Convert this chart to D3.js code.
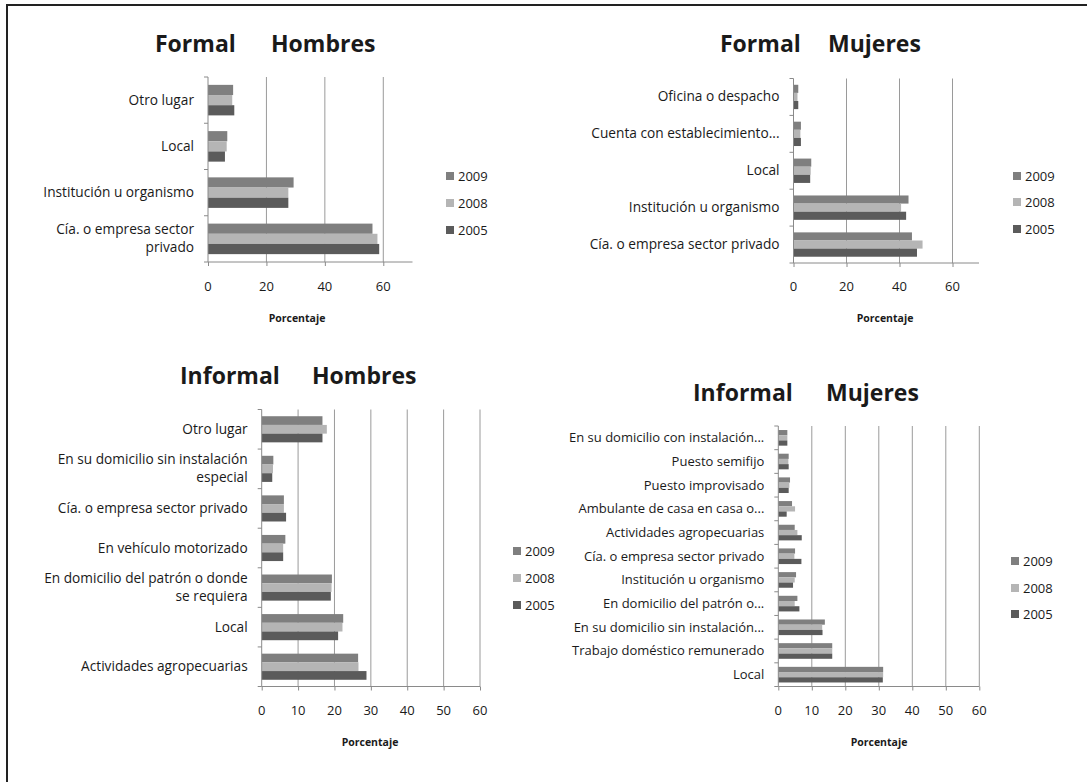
<!DOCTYPE html>
<html><head><meta charset="utf-8">
<script src="https://cdn.jsdelivr.net/npm/d3@7"></script>
<style>
body{margin:0;background:#fff;}
svg{display:block;}
text{font-family:"Open Sans",Lato,sans-serif;fill:#1a1a1a;}
</style></head>
<body>
<svg id="c" width="1087" height="782"></svg>
<script>
const years = ["2009","2008","2005"];
const yearColors = ["#7f7f7f","#b5b5b5","#5b5b5b"];

// Formal Hombres
const fhCategories = ["Otro lugar","Local","Institución u organismo","Cía. o empresa sector\nprivado"];
const fh2009 = [8.6, 6.6, 29.3, 56.3];
const fh2008 = [8.3, 6.4, 27.5, 58.0];
const fh2005 = [9.0, 5.8, 27.5, 58.6];
const fhTicks = [0,20,40,60];

// Formal Mujeres
const fmCategories = ["Oficina o despacho","Cuenta con establecimiento...","Local","Institución u organismo","Cía. o empresa sector privado"];
const fm2009 = [1.8, 2.8, 6.7, 43.4, 44.7];
const fm2008 = [1.5, 2.6, 6.5, 40.6, 48.7];
const fm2005 = [1.8, 2.8, 6.3, 42.5, 46.6];
const fmTicks = [0,20,40,60];

// Informal Hombres
const ihCategories = ["Otro lugar","En su domicilio sin instalación\nespecial","Cía. o empresa sector privado","En vehículo motorizado","En domicilio del patrón o donde\nse requiera","Local","Actividades agropecuarias"];
const ih2009 = [16.7, 3.2, 6.1, 6.5, 19.3, 22.4, 26.5];
const ih2008 = [17.9, 3.1, 6.1, 5.9, 19.2, 22.2, 26.6];
const ih2005 = [16.7, 2.9, 6.7, 5.9, 19.0, 21.0, 28.8];
const ihTicks = [0,10,20,30,40,50,60];

// Informal Mujeres
const imCategories = ["En su domicilio con instalación...","Puesto semifijo","Puesto improvisado","Ambulante de casa en casa o...","Actividades agropecuarias","Cía. o empresa sector privado","Institución u organismo","En domicilio del patrón o...","En su domicilio sin instalación...","Trabajo doméstico remunerado","Local"];
const im2009 = [2.7, 3.1, 3.5, 4.1, 4.9, 5.0, 5.3, 5.7, 13.9, 16.1, 31.3];
const im2008 = [2.7, 3.0, 3.3, 5.0, 5.7, 4.8, 4.9, 4.9, 13.1, 16.1, 31.3];
const im2005 = [2.7, 3.1, 3.1, 2.5, 7.0, 6.9, 4.4, 6.3, 13.2, 16.1, 31.2];
const imTicks = [0,10,20,30,40,50,60];

const axisTitle = "Porcentaje";

const svg = d3.select("#c");

// frame
svg.append("line").attr("x1",7).attr("x2",1087).attr("y1",5).attr("y2",5).attr("stroke","#222").attr("stroke-width",2);
svg.append("line").attr("x1",7).attr("x2",7).attr("y1",4).attr("y2",782).attr("stroke","#222").attr("stroke-width",2);

const panels = [
  {title:["Formal","Hombres"], tx:[155,271], ty:52, cats:fhCategories, vals:[fh2009,fh2008,fh2005], ticks:fhTicks, max:70, lfs:13.7,
   x0:208, x1:412.5, y0:77, y1:262, tickY:291, titleX:297, titleY:322, legX:446, legY:[181,208,235]},
  {title:["Formal","Mujeres"], tx:[720,828], ty:52, cats:fmCategories, vals:[fm2009,fm2008,fm2005], ticks:fmTicks, max:70, lfs:13.7,
   x0:793.5, x1:979, y0:78.5, y1:263, tickY:291, titleX:885, titleY:322, legX:1013, legY:[181,207,234]},
  {title:["Informal","Hombres"], tx:[180,312], ty:384, cats:ihCategories, vals:[ih2009,ih2008,ih2005], ticks:ihTicks, max:60, lfs:13.7,
   x0:261.7, x1:480, y0:409.5, y1:686.5, tickY:715, titleX:370, titleY:746, legX:513, legY:[556,583,610]},
  {title:["Informal","Mujeres"], tx:[693,826], ty:401, cats:imCategories, vals:[im2009,im2008,im2005], ticks:imTicks, max:60, lfs:13,
   x0:778.3, x1:979.3, y0:426, y1:686.5, tickY:715, titleX:879, titleY:746, legX:1011, legY:[566,593,619]}
];

panels.forEach(p => {
  const g = svg.append("g");
  const x = d3.scaleLinear().domain([0,p.max]).range([p.x0,p.x1]);
  const y = d3.scaleBand().domain(p.cats).range([p.y0,p.y1]).paddingInner(0.34).paddingOuter(0.17);
  const ys = d3.scaleBand().domain(years).range([0,y.bandwidth()]);

  // gridlines
  g.selectAll(".grid").data(p.ticks.filter(t=>t>0)).join("line")
    .attr("x1",d=>x(d)).attr("x2",d=>x(d)).attr("y1",p.y0).attr("y2",p.y1)
    .attr("stroke","#9a9a9a").attr("stroke-width",1);

  // bars
  years.forEach((yr,i)=>{
    g.selectAll(".b"+yr).data(p.cats.map((c,j)=>({c,v:p.vals[i][j]}))).join("rect")
      .attr("x",x(0)).attr("y",d=>y(d.c)+ys(yr))
      .attr("width",d=>x(d.v)-x(0)).attr("height",ys.bandwidth())
      .attr("fill",yearColors[i]);
  });

  // x axis
  const xa = g.append("g").attr("transform",`translate(0,${p.y1})`)
    .call(d3.axisBottom(x).tickValues(p.ticks).tickSize(4).tickFormat(d3.format("d")));
  xa.select(".domain").attr("stroke","#8a8a8a").attr("d",`M${p.x0},0H${p.x1}`);
  xa.selectAll(".tick line").attr("stroke","#8a8a8a");
  xa.selectAll("text").remove();
  g.selectAll(".tl").data(p.ticks).join("text")
    .attr("x",d=>x(d)).attr("y",p.tickY).attr("text-anchor","middle")
    .attr("font-size",13).text(d=>d);

  // y axis line and ticks
  g.append("line").attr("x1",p.x0).attr("x2",p.x0).attr("y1",p.y0).attr("y2",p.y1).attr("stroke","#8a8a8a");
  g.selectAll(".yt").data(d3.range(p.cats.length+1)).join("line")
    .attr("x1",p.x0-4).attr("x2",p.x0).attr("y1",i=>p.y0+i*(p.y1-p.y0)/p.cats.length).attr("y2",i=>p.y0+i*(p.y1-p.y0)/p.cats.length)
    .attr("stroke","#8a8a8a");

  // category labels
  p.cats.forEach(c=>{
    const lines = c.split("\n");
    const cy = y(c)+y.bandwidth()/2;
    const t = g.append("text").attr("text-anchor","end").attr("font-size",p.lfs);
    lines.forEach((l,k)=>{
      t.append("tspan").attr("x",p.x0-14).attr("y",cy + (k-(lines.length-1)/2)*18 + 4.5).text(l);
    });
  });

  // titles
  p.title.forEach((t,k)=>{
    g.append("text").attr("x",p.tx[k]).attr("y",p.ty).attr("font-size",23).attr("font-weight","bold").attr("fill","#111").text(t);
  });

  // axis title
  g.append("text").attr("x",p.titleX).attr("y",p.titleY).attr("text-anchor","middle")
    .attr("font-size",10.5).attr("font-weight","bold").text(axisTitle);

  // legend
  years.forEach((yr,i)=>{
    g.append("rect").attr("x",p.legX).attr("y",p.legY[i]-9).attr("width",8).attr("height",8).attr("fill",yearColors[i]);
    g.append("text").attr("x",p.legX+12).attr("y",p.legY[i]).attr("font-size",13).text(yr);
  });
});
</script>
</body></html>
